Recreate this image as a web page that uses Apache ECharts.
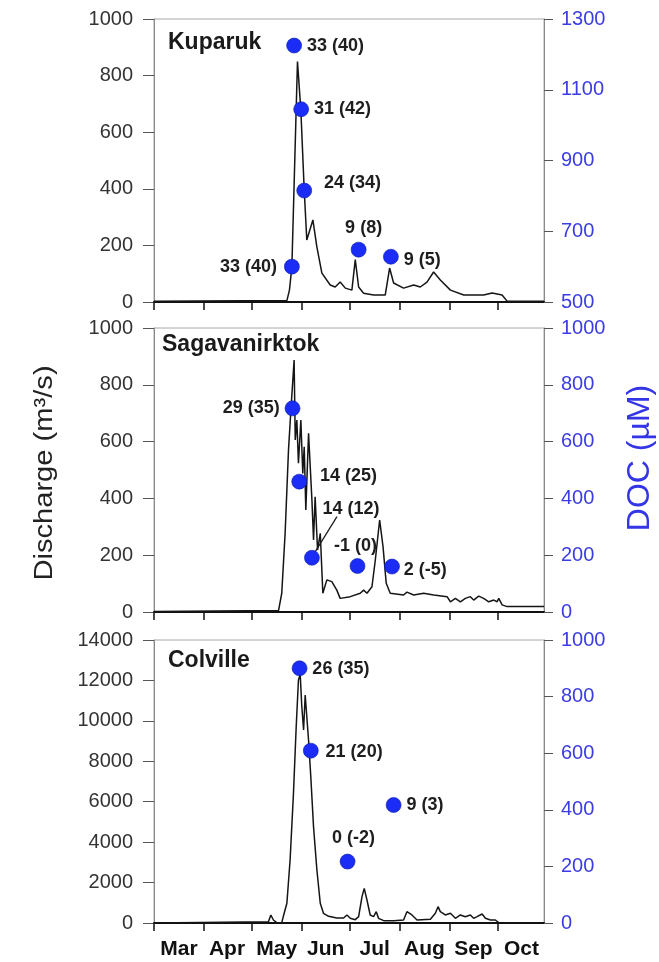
<!DOCTYPE html>
<html><head><meta charset="utf-8">
<script src="https://cdn.jsdelivr.net/npm/echarts@6/dist/echarts.min.js"></script>
<style>html,body{margin:0;padding:0;background:#fff}#c{width:659px;height:962px}</style>
</head><body><div id="c"></div>
<script>
// ---- x axis: days since 1 March ----
const monthNames = ['Mar','Apr','May','Jun','Jul','Aug','Sep','Oct'];
const monthStarts = [0,31,61,92,122,153,184,214];
const monthMids = [15.5,45.5,76.5,107,137.5,168.5,199,229];

// ---- Kuparuk ----
const kupDays = [0,82.8,84.4,85.9,89.4,91.5,93.6,95.2,99,101.5,104.6,109.8,112.9,116,119.2,123.3,125.4,127.5,130.6,136.8,144.1,146.8,149.3,155.5,161.8,165.9,170.1,174.2,178.4,184.7,193,205.4,210.7,216.9,220,243];
const kupQ    = [3,5,42,124,850,678,396,219,290,194,102,60,53,71,49,42,150,53,31,25,25,120,67,49,60,53,70,106,78,42,25,25,32,25,3,3];
const kupDocDays = [87.3,91.7,93.6,85.9,127.5,147.6];
const kupDoc     = [1225,1045,815,600,648,628];
const kupLabels  = ['33 (40)','31 (42)','24 (34)','33 (40)','9 (8)','9 (5)'];

// ---- Sagavanirktok ----
const sagDays = [0,77.6,79.6,81.7,83.8,85.3,87.3,88,89,90,91.5,92.7,93.6,94.6,96.3,98.4,99.4,100.4,101.9,103.6,105.2,107.7,110.8,113.9,116,122.3,128.5,130.6,132.7,135.8,137.9,140.6,142.7,144.7,147.2,155.5,157.6,161.8,168,174.3,182.6,184.7,187.8,190.9,194,197.1,199.2,202.3,205.4,208.6,211.7,213.8,214.8,216.9,220,243];
const sagQ    = [2,5,66,277,570,711,887,606,676,524,676,488,582,359,629,394,254,406,218,277,66,113,107,77,48,54,66,77,66,89,183,324,230,101,66,60,70,60,66,60,54,36,48,36,48,54,42,56,48,36,42,36,48,25,19,19];
const sagDocDays = [86.3,90.5,98.4,126.8,148.3];
const sagDoc     = [717,459,191,162,160];
const sagLabels  = ['29 (35)','14 (25)','14 (12)','-1 (0)','2 (-5)'];
// leader line from the 14 (12) point to its label
const sagLeaderDays = [100.4,114];
const sagLeaderDoc  = [212,336];

// ---- Colville ----
const colDays = [0,71.3,72.8,74.4,76.5,79.6,81.1,82.8,84.8,86.9,88.6,90,91.1,92.1,93.2,94.2,95.2,96.3,97.7,99.4,101.5,103.6,105.6,108.8,113.9,118.1,120.2,122.3,125.4,127.5,129.6,131,132.7,134.7,136.8,138.5,139.9,143.1,149.3,155.5,157.6,160.7,163.9,172.2,175.3,177,178.4,181.5,184.7,187.8,190.9,194,197.1,199.2,201.3,204.4,206.5,209.6,212.7,214.8,243];
const colQ    = [0,66,396,148,16,16,480,975,3117,6416,9711,12021,12300,10700,9547,11279,11200,9053,7237,4764,2622,975,480,330,247,247,396,231,165,313,1303,1715,1138,396,313,561,231,115,115,148,561,396,148,181,480,808,561,396,480,231,396,313,396,231,313,445,231,148,148,16,0];
const colDocDays = [90.7,97.7,120.6,149.3];
const colDoc     = [900,609,217,417];
const colLabels  = ['26 (35)','21 (20)','0 (-2)','9 (3)'];

// ---- axis ranges ----
const leftAxes  = [{min:0,max:1000,interval:200},{min:0,max:1000,interval:200},{min:0,max:14000,interval:2000}];
const rightAxes = [{min:500,max:1300,interval:200},{min:0,max:1000,interval:200},{min:0,max:1000,interval:200}];
const panelNames = ['Kuparuk','Sagavanirktok','Colville'];

// ---- styling (label placements) ----
const place = [
  [['right',5,0,0],['right',5,0,0],['right',6,6,-8],['left',7,0,0],['top',5,5,0],['right',5,0,3]],
  [['left',5,0,0],['right',13,0,-6],['inside',0,39,-49],['top',3,-2,0],['right',4,0,3]],
  [['right',5,0,1],['right',7,0,1],['top',7,6,0],['right',5,0,0]]
];
const FONT = '"Liberation Sans", Arial, sans-serif';
const grids = [{top:19,height:283},{top:328,height:284},{top:640,height:283}];
const titleTops = [31,333,649];
const titleLefts = [168,162,168];
const BLUE_LBL = '#3c3ce4';
const DOT = '#1a2cf5';

const chart = echarts.init(document.getElementById('c'), null, {renderer:'canvas'});
const zip = (a,b)=>a.map((v,i)=>[v,b[i]]);
const Q = [[kupDays,kupQ],[sagDays,sagQ],[colDays,colQ]];
const D = [[kupDocDays,kupDoc,kupLabels],[sagDocDays,sagDoc,sagLabels],[colDocDays,colDoc,colLabels]];

const option = {
  animation:false,
  backgroundColor:'#fff',
  textStyle:{fontFamily:FONT},
  title: panelNames.map((n,i)=>({text:n,left:titleLefts[i],top:titleTops[i],padding:0,
    textStyle:{fontFamily:FONT,fontSize:23,fontWeight:'bold',color:'#1a1a1a'}})),
  grid: grids.map(g=>({left:154,right:115,top:g.top,height:g.height,show:true,borderColor:'#a8a8a8',borderWidth:1})),
  xAxis: grids.map((g,i)=>({
    type:'value',gridIndex:i,min:0,max:243,
    splitLine:{show:false},
    axisLine:{lineStyle:{color:'#111',width:2}},
    axisTick:{show:true,customValues:monthStarts,length:8,lineStyle:{color:'#111',width:1.5}},
    axisLabel: i===2 ? {show:true,customValues:monthMids,formatter:v=>monthNames[monthMids.indexOf(v)],
      fontFamily:FONT,fontSize:21,fontWeight:'bold',color:'#111',margin:16} : {show:false}
  })),
  yAxis: [],
  series: [],
  graphic: [
    {type:'text',x:45,y:473,rotation:Math.PI/2,scaleX:1.12,style:{text:'Discharge (m³/s)',font:'26px "Liberation Sans"',fill:'#222',align:'center',verticalAlign:'middle'}},
    {type:'text',x:640,y:458,rotation:Math.PI/2,style:{text:'DOC (µM)',font:'32px "Liberation Sans"',fill:'#3535e8',align:'center',verticalAlign:'middle'}}
  ]
};
for (let i=0;i<3;i++){
  option.yAxis.push({type:'value',gridIndex:i,position:'left',min:leftAxes[i].min,max:leftAxes[i].max,interval:leftAxes[i].interval,
    splitLine:{show:false},axisLine:{show:true,lineStyle:{color:'#8a8a8a',width:1}},
    axisTick:{show:true,length:11,lineStyle:{color:'#555'}},
    axisLabel:{fontFamily:FONT,fontSize:20,color:'#333',margin:21,formatter:v=>String(v)}});
  option.yAxis.push({type:'value',gridIndex:i,position:'right',min:rightAxes[i].min,max:rightAxes[i].max,interval:rightAxes[i].interval,
    splitLine:{show:false},axisLine:{show:true,lineStyle:{color:'#8a8a8a',width:1}},
    axisTick:{show:true,length:9,lineStyle:{color:'#555'}},
    axisLabel:{fontFamily:FONT,fontSize:20,color:BLUE_LBL,margin:17,formatter:v=>String(v)}});
  option.series.push({type:'line',xAxisIndex:i,yAxisIndex:2*i,data:zip(Q[i][0],Q[i][1]),
    showSymbol:false,lineStyle:{color:'#151515',width:1.5},z:2});
  const pts = D[i][0].map((d,k)=>{
    const p = place[i][k];
    return {value:[d,D[i][1][k]],name:D[i][2][k],label:{position:p[0],distance:p[1],offset:[p[2],p[3]]}};
  });
  option.series.push({type:'scatter',xAxisIndex:i,yAxisIndex:2*i+1,data:pts,symbolSize:15,z:5,
    itemStyle:{color:DOT,opacity:1,borderColor:'#0b1fa8',borderWidth:0.6},
    label:{show:true,formatter:p=>p.name,fontFamily:FONT,fontSize:18,fontWeight:'bold',color:'#1e1e1e'}
  });
}
option.series.push({type:'line',xAxisIndex:1,yAxisIndex:3,data:zip(sagLeaderDays,sagLeaderDoc),
  showSymbol:false,lineStyle:{color:'#1e1e1e',width:1.3},z:4});
chart.setOption(option);
</script>
</body></html>
